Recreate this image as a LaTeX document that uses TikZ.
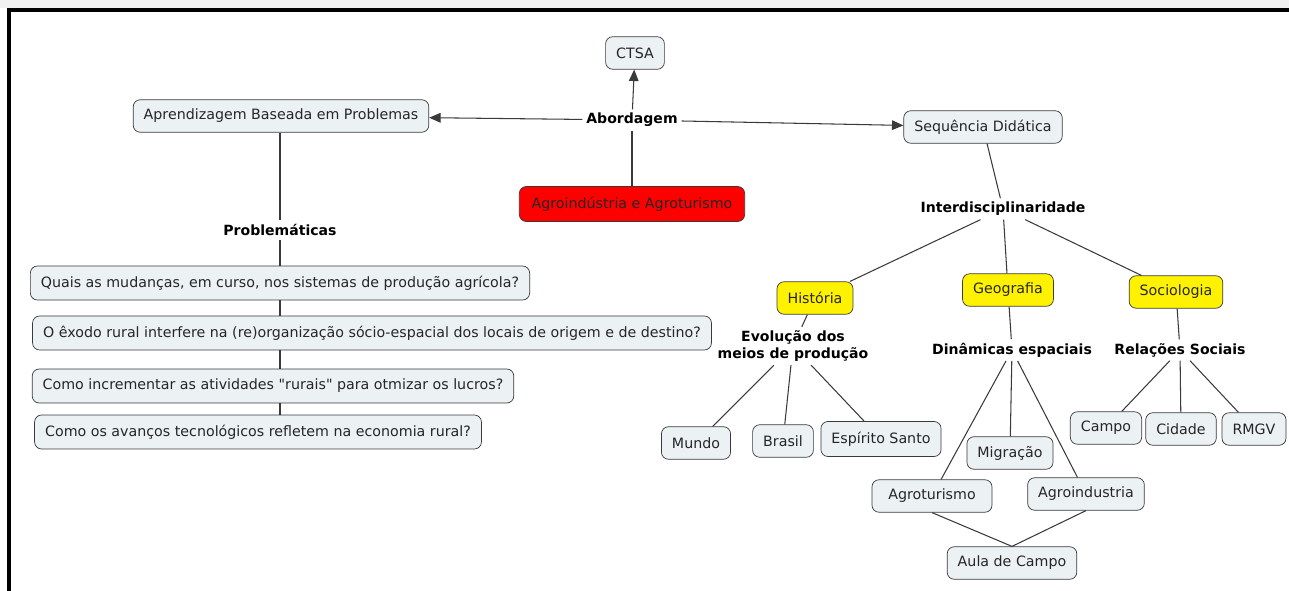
\documentclass[tikz,border=0pt]{standalone}
\usepackage{fontspec}
\setmainfont{DejaVu Sans}
\usetikzlibrary{arrows.meta,positioning}
\definecolor{caixa}{HTML}{ECF1F4}
\definecolor{borda}{HTML}{3A3A3A}

\begin{document}
\begin{tikzpicture}[x=0.02cm,y=-0.02cm,>={Triangle[length=6.5pt,width=5.5pt]},
  b/.style={draw=borda,rounded corners=4pt,fill=caixa,inner xsep=6pt,minimum height=6.5mm,text=black!85,font=\fontsize{8.1}{9}\selectfont},
  q/.style={b,minimum height=6.8mm},
  am/.style={b,fill=yellow},
  rot/.style={font=\bfseries\fontsize{8}{9.5}\selectfont,align=center,inner sep=2pt},
  l/.style={draw=borda,semithick}]
\useasboundingbox (0,0) rectangle (1289,591);
% moldura
\fill[black!6] (0,0) rectangle (1289,8);
\draw[line width=2.4pt] (9,591) -- (9,10) -- (1289,10);

% centro
\node[b] (ctsa) at (635,53) {CTSA};
\node[rot] (abo) at (632,120) {Abordagem};
\node[b,fill=red,minimum height=7mm,inner xsep=7pt] (agro) at (632,204) {Agroindústria e Agroturismo};
\node[b] (abp) at (281,116) {Aprendizagem Baseada em Problemas};
\node[b] (sd) at (983,127) {Sequência Didática};
\draw[l] (agro) -- (abo);
\draw[l,->] (abo) -- (ctsa);
\draw[l,->] (abo) -- (abp);
\draw[l,->] (abo) -- (sd);

% problematicas
\node[rot] (prob) at (280,230) {Problemáticas};
\node[q] (q1) at (280,283) {Quais as mudanças, em curso, nos sistemas de produção agrícola?};
\node[q] (q2) at (372,333) {O êxodo rural interfere na (re)organização sócio-espacial dos locais de origem e de destino?};
\node[q] (q3) at (273,386) {Como incrementar as atividades \textquotedbl rurais\textquotedbl\ para otmizar os lucros?};
\node[q] (q4) at (258,432) {Como os avanços tecnológicos refletem na economia rural?};
\draw[l] (abp.south -| prob) -- (prob);
\draw[l] (prob) -- (q1.north -| prob);
\draw[l] (q1.south -| prob) -- (q2.north -| prob);
\draw[l] (q2.south -| prob) -- (q3.north -| prob);
\draw[l] (q3.south -| prob) -- (q4.north -| prob);

% disciplinas
\node[rot] (inter) at (1003,209) {Interdisciplinaridade};
\node[am] (hist) at (815,298) {História};
\node[am] (geo) at (1008,290) {Geografia};
\node[am] (soc) at (1176,292) {Sociologia};
\draw[l] (sd) -- (inter);
\foreach \d in {hist,geo,soc} \draw[l] (inter) -- (\d);

% historia
\node[rot] (evo) at (793,346) {Evolução dos\\meios de produção};
\node[b] (mun) at (696,443) {Mundo};
\node[b] (bra) at (783,441) {Brasil};
\node[b,minimum height=7mm] (es) at (881,439) {Espírito Santo};
\draw[l] (hist) -- (evo);
\foreach \d in {mun,bra,es} \draw[l] (evo) -- (\d);

% geografia
\node[rot] (din) at (1012,350) {Dinâmicas espaciais};
\node[b] (mig) at (1010,453) {Migração};
\node[b,minimum width=24mm] (atur) at (932,496) {Agroturismo};
\node[b] (aind) at (1086,494) {Agroindustria};
\node[b] (aula) at (1012,563) {Aula de Campo};
\draw[l] (geo) -- (din);
\foreach \d in {atur,mig,aind} \draw[l] (din) -- (\d);
\draw[l] (atur.south) -- (aula.north);
\draw[l] (aind.south) -- (aula.north);

% sociologia
\node[rot] (rel) at (1180,350) {Relações Sociais};
\node[b] (cam) at (1106,428) {Campo};
\node[b] (cid) at (1181,429) {Cidade};
\node[b] (rmgv) at (1254,429) {RMGV};
\draw[l] (soc) -- (rel);
\foreach \d in {cam,cid,rmgv} \draw[l] (rel) -- (\d);
\end{tikzpicture}
\end{document}
